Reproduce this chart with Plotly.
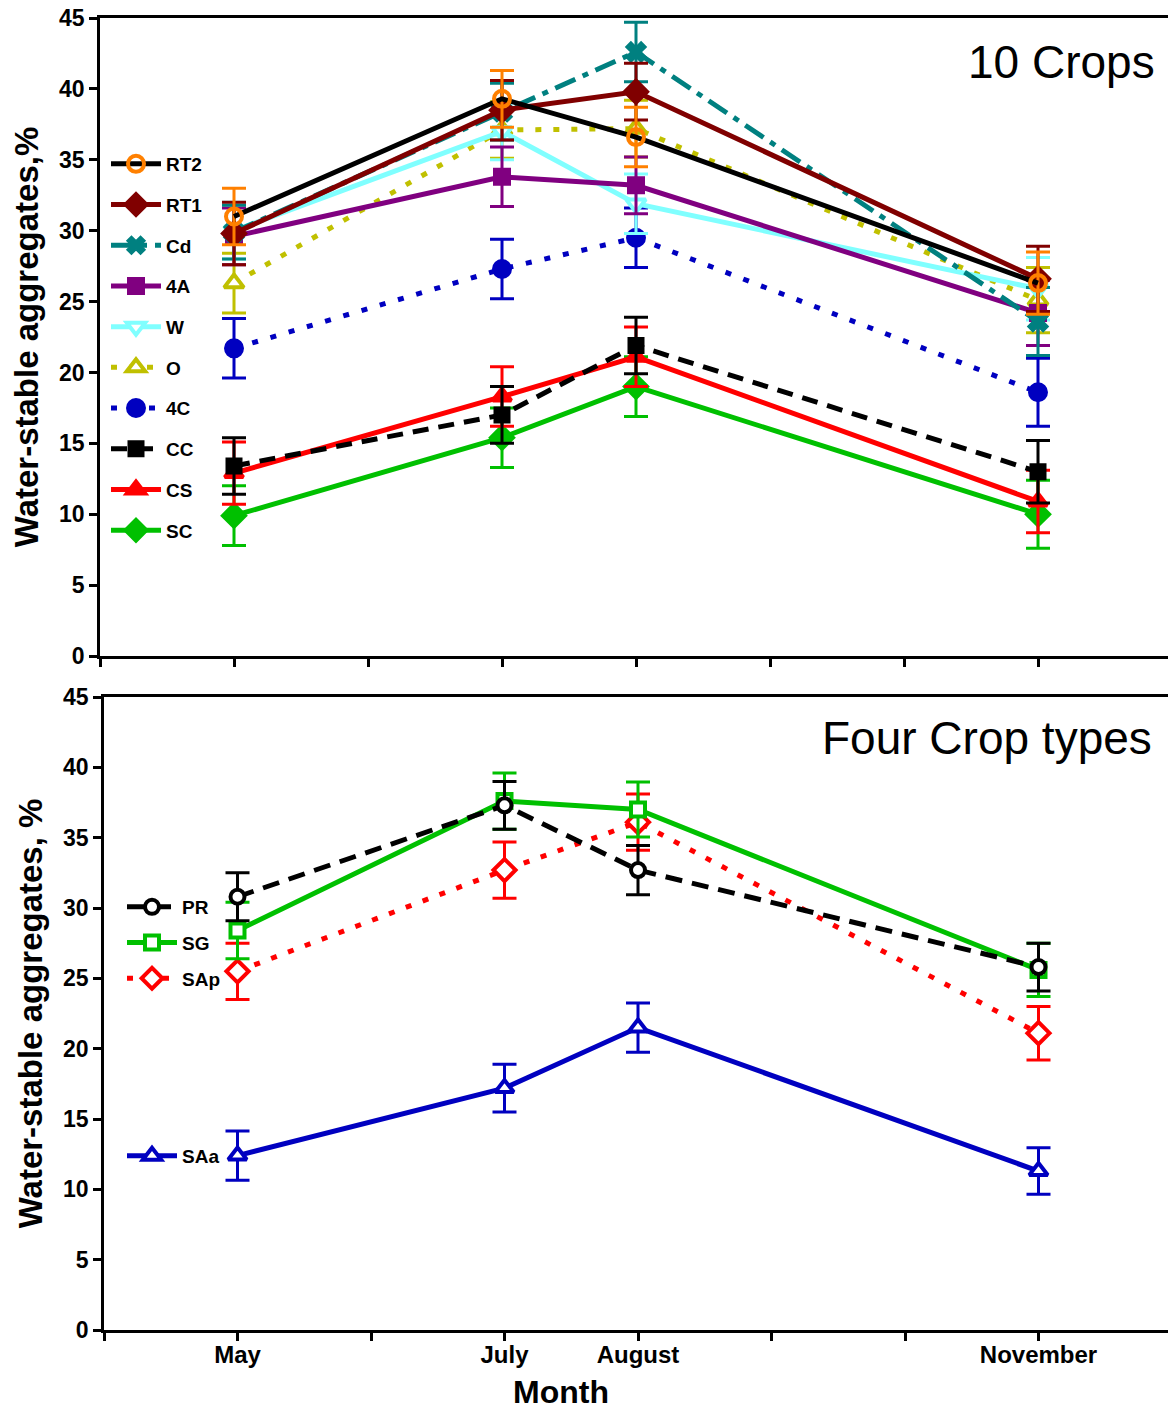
import plotly.graph_objects as go

# ---------------- data ----------------
months = [5, 7, 8, 11]
month_tickvals = [4, 5, 6, 7, 8, 9, 10, 11, 12]
month_ticktext = ["", "May", "", "July", "August", "", "", "November", ""]
y_tickvals = [0, 5, 10, 15, 20, 25, 30, 35, 40, 45]

# Top panel: 10 crops
RT2 = [31.0, 39.3, 36.6, 26.3]
RT2_err = [2.0, 2.0, 2.1, 2.2]
RT1 = [29.8, 38.5, 39.8, 26.6]
RT1_err = [2.2, 2.1, 2.0, 2.3]
Cd = [29.9, 38.4, 42.6, 23.6]
Cd_err = [1.9, 2.0, 2.1, 2.4]
A4 = [29.6, 33.8, 33.2, 24.2]
A4_err = [2.0, 2.1, 2.0, 2.3]
W = [30.0, 37.0, 31.9, 25.9]
W_err = [2.0, 2.0, 2.1, 2.2]
O = [26.3, 37.1, 37.2, 25.1]
O_err = [2.1, 2.0, 2.0, 2.3]
C4 = [21.7, 27.3, 29.5, 18.6]
C4_err = [2.1, 2.1, 2.1, 2.4]
CC = [13.4, 17.0, 21.9, 13.0]
CC_err = [2.0, 2.0, 2.0, 2.2]
CS = [12.9, 18.3, 21.1, 10.9]
CS_err = [2.2, 2.1, 2.1, 2.2]
SC = [9.9, 15.4, 19.0, 10.0]
SC_err = [2.1, 2.1, 2.1, 2.4]

# Bottom panel: four crop types
PR = [30.8, 37.3, 32.7, 25.8]
PR_err = [1.7, 1.7, 1.75, 1.7]
SG = [28.4, 37.6, 37.0, 25.6]
SG_err = [2.0, 2.0, 1.95, 1.9]
SAp = [25.5, 32.7, 36.1, 21.1]
SAp_err = [2.0, 2.0, 2.0, 1.9]
SAa = [12.4, 17.2, 21.5, 11.3]
SAa_err = [1.75, 1.7, 1.75, 1.65]

FONT = "Liberation Sans, Arial, sans-serif"

fig = go.Figure()


def add(name, y, err, color, dash, symbol, mcolor, mline, legend, rank,
        xa="x", ya="y", size=16, lw=5, mlw=4):
    fig.add_trace(go.Scatter(
        x=months, y=y, name=name, mode="lines+markers",
        xaxis=xa, yaxis=ya, legend=legend, legendgroup=name, legendrank=rank,
        line=dict(color=color, width=lw, dash=dash),
        marker=dict(symbol=symbol, size=size, color=mcolor,
                    line=dict(color=mline, width=mlw)),
        error_y=dict(type="data", array=err, visible=True, color=mline,
                     thickness=3, width=12),
    ))


# top panel (drawn bottom-up so RT2 ends on top)
add("SC", SC, SC_err, "#00c000", "solid", "diamond", "#00c000", "#00c000", "legend", 10, size=17)
add("CS", CS, CS_err, "#ff0000", "solid", "triangle-up", "#ff0000", "#ff0000", "legend", 9)
add("CC", CC, CC_err, "#000000", "16px,10px", "square", "#000000", "#000000", "legend", 8, size=13)
add("4C", C4, C4_err, "#0000c0", "6px,13px", "circle", "#0000c0", "#0000c0", "legend", 7)
add("O", O, O_err, "#c0c000", "6px,12px", "triangle-up", "white", "#c0c000", "legend", 6, size=17)
add("W", W, W_err, "#80ffff", "solid", "triangle-down", "white", "#80ffff", "legend", 5, size=17)
add("4A", A4, A4_err, "#800080", "solid", "square", "#800080", "#800080", "legend", 4, size=14)
add("Cd", Cd, Cd_err, "#008080", "22px,8px,6px,8px", "x", "#008080", "#008080", "legend", 3,
    size=18, mlw=1.5)
add("RT1", RT1, RT1_err, "#800000", "solid", "diamond", "#800000", "#800000", "legend", 2, size=17)
add("RT2", RT2, RT2_err, "#000000", "solid", "circle-open", "#ff8000", "#ff8000", "legend", 1)

# bottom panel
add("SAa", SAa, SAa_err, "#0000c0", "solid", "triangle-up", "white", "#0000c0", "legend3", 4, "x2", "y2")
add("SAp", SAp, SAp_err, "#ff0000", "6px,12px", "diamond", "white", "#ff0000", "legend2", 3, "x2", "y2", size=17)
add("SG", SG, SG_err, "#00c000", "solid", "square", "white", "#00c000", "legend2", 2, "x2", "y2", size=14)
add("PR", PR, PR_err, "#000000", "17px,10px", "circle", "white", "#000000", "legend2", 1, "x2", "y2", size=14)

# the page body has an 8px default margin: figure is laid out relative to it
OFF = 8
W_PX, H_PX = 1176 - OFF, 1410 - OFF


def px(xp):
    return (xp - OFF) / W_PX


def py(yp):
    return 1 - (yp - OFF) / H_PX


axis_common = dict(
    showline=True, linecolor="black", linewidth=2.5, mirror=True,
    ticks="outside", ticklen=8, tickwidth=2.5, tickcolor="black",
    showgrid=False, zeroline=False, automargin=False, ticklabeloverflow="allow",
)
xcommon = dict(axis_common, range=[4, 12], tickmode="array",
               tickvals=month_tickvals, ticktext=month_ticktext,
               ticklabelstandoff=-7,
               tickfont=dict(family=FONT, size=24, color="black", weight="bold"))
ycommon = dict(axis_common, range=[0, 45], tickmode="array", tickvals=y_tickvals,
               tickfont=dict(family=FONT, size=23, color="black", weight="bold"))

legend_common = dict(
    font=dict(family=FONT, size=19, color="black", weight="bold"),
    bgcolor="rgba(0,0,0,0)", xanchor="left", yanchor="top",
    itemwidth=50, tracegroupgap=13, traceorder="grouped",
)

fig.update_layout(
    width=W_PX, height=H_PX,
    margin=dict(l=0, r=0, t=0, b=0, autoexpand=False),
    plot_bgcolor="white", paper_bgcolor="white",
    xaxis=dict(xcommon, domain=[px(100), px(1172)], anchor="y", showticklabels=False),
    yaxis=dict(ycommon, domain=[py(656), py(18)], anchor="x",
               title=dict(text="Water-stable aggregates,%", standoff=11,
                          font=dict(family=FONT, size=33, color="black", weight="bold"))),
    xaxis2=dict(xcommon, domain=[px(104), px(1172)], anchor="y2"),
    yaxis2=dict(ycommon, domain=[py(1330), py(697)], anchor="x2",
                title=dict(text="Water-stable aggregates, %", standoff=11,
                           font=dict(family=FONT, size=33, color="black", weight="bold"))),
    legend=dict(legend_common, x=px(106), y=py(145)),
    legend2=dict(legend_common, x=px(122), y=py(888), tracegroupgap=8),
    legend3=dict(legend_common, x=px(122), y=py(1137)),
    showlegend=True,
    annotations=[
        dict(text="10 Crops", xref="paper", yref="paper", x=px(1157), y=py(62),
             xanchor="right", yanchor="middle", showarrow=False,
             font=dict(family=FONT, size=46, color="black")),
        dict(text="Four Crop types", xref="paper", yref="paper", x=px(1154), y=py(738),
             xanchor="right", yanchor="middle", showarrow=False,
             font=dict(family=FONT, size=46, color="black")),
        dict(text="Month", xref="paper", yref="paper", x=px(561), y=py(1392),
             xanchor="center", yanchor="middle", showarrow=False,
             font=dict(family=FONT, size=32, color="black", weight="bold")),
    ],
)

fig.write_html("out.html")
